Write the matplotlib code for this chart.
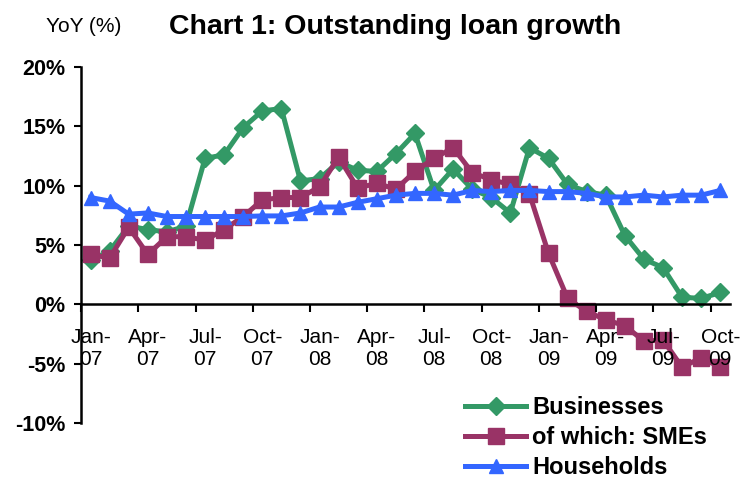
import matplotlib
matplotlib.use('Agg')
import matplotlib.pyplot as plt
import numpy as np

plt.rcParams['font.family'] = ['Liberation Sans', 'DejaVu Sans']

# monthly, Jan-07 .. Oct-09
months = ['Jan-07', 'Feb-07', 'Mar-07', 'Apr-07', 'May-07', 'Jun-07', 'Jul-07', 'Aug-07', 'Sep-07',
          'Oct-07', 'Nov-07', 'Dec-07', 'Jan-08', 'Feb-08', 'Mar-08', 'Apr-08', 'May-08', 'Jun-08',
          'Jul-08', 'Aug-08', 'Sep-08', 'Oct-08', 'Nov-08', 'Dec-08', 'Jan-09', 'Feb-09', 'Mar-09',
          'Apr-09', 'May-09', 'Jun-09', 'Jul-09', 'Aug-09', 'Sep-09', 'Oct-09']

businesses = [3.7, 4.5, 6.6, 6.3, 6.1, 6.6, 12.3, 12.6, 14.9, 16.3, 16.5, 10.4, 10.6, 12.0, 11.3, 11.2, 12.7,
              14.4, 9.6, 11.4, 9.7, 9.0, 7.7, 13.2, 12.3, 10.1, 9.5, 9.2, 5.8, 3.8, 3.1, 0.6, 0.5, 1.0]
smes = [4.2, 3.9, 6.5, 4.2, 5.7, 5.7, 5.4, 6.3, 7.4, 8.8, 9.0, 9.0, 9.9, 12.4, 9.8, 10.2, 9.7,
        11.2, 12.3, 13.2, 11.1, 10.5, 10.1, 9.3, 4.3, 0.5, -0.6, -1.3, -1.8, -3.1, -3.0, -5.3, -4.5, -5.3]
households = [9.0, 8.7, 7.6, 7.7, 7.4, 7.4, 7.4, 7.4, 7.4, 7.45, 7.45, 7.7, 8.2, 8.2, 8.6, 8.9, 9.2,
              9.35, 9.35, 9.2, 9.6, 9.5, 9.6, 9.6, 9.5, 9.5, 9.35, 9.05, 9.05, 9.2, 9.05, 9.2, 9.2, 9.6]

x = np.arange(len(months))

fig = plt.figure(figsize=(7.44, 4.83), dpi=100)
ax = fig.add_axes([0.1089, 0.1242, 0.872, 0.7371])

ax.plot(x, businesses, color='#339966', lw=3.6, marker='D', ms=9, mec='#339966', label='Businesses')
ax.plot(x, smes, color='#993366', lw=3.6, marker='s', ms=12, mec='#993366', label='of which: SMEs')
ax.plot(x, households, color='#3366FF', lw=3.6, marker='^', ms=10, mec='#3366FF', label='Households')

ax.set_xlim(-0.5, len(months) - 0.5)
ax.set_ylim(-10, 20)
ax.set_axisbelow(False)

# spines: y axis on the left, x axis crossing at zero
for s in ['top', 'right']:
    ax.spines[s].set_visible(False)
ax.spines['left'].set_linewidth(1.8)
ax.spines['bottom'].set_position(('data', 0))
ax.spines['bottom'].set_linewidth(1.8)

yt = [-10, -5, 0, 5, 10, 15, 20]
ax.set_yticks(yt)
ax.set_yticklabels(['%d%%' % v for v in yt], fontsize=15.5, fontweight='bold')
ax.tick_params(axis='y', length=5, width=1.5, pad=6)

# tick marks between categories, labels at category centres
ax.set_xticks(np.arange(-0.5, len(months), 3))
ax.set_xticklabels([])
ax.tick_params(axis='x', which='major', direction='out', length=6, width=1.5)
lab_pos = x[::3]
ax.set_xticks(lab_pos, minor=True)
ax.set_xticklabels([m.replace('-', '-\n') for m in months[::3]], minor=True, fontsize=15,
                   linespacing=1.2)
ax.tick_params(axis='x', which='minor', length=0, pad=17)

fig.text(0.112, 0.945, 'YoY (%)', fontsize=15, ha='center', va='center')
fig.text(0.5305, 0.945, 'Chart 1: Outstanding loan growth', fontsize=20.5, fontweight='bold',
         ha='center', va='center')

leg = ax.legend(loc='upper left', bbox_to_anchor=(465 / 744, 1 - 396 / 483),
                bbox_transform=fig.transFigure, frameon=False, borderpad=0, borderaxespad=0,
                handlelength=2.6, handletextpad=0.25, labelspacing=0.3,
                prop={'size': 17, 'weight': 'bold'})

fig.savefig('out.png', dpi=100)
